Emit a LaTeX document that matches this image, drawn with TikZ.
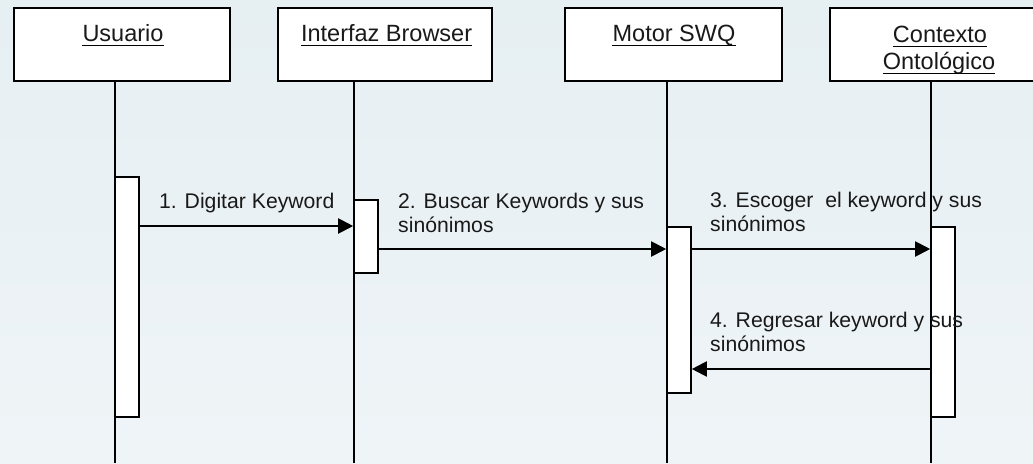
\documentclass[tikz,border=0pt]{standalone}
\usepackage{fontspec}
\setmainfont{Liberation Sans}
\usetikzlibrary{arrows.meta}
\definecolor{bgtop}{RGB}{230,239,242}
\definecolor{bgbot}{RGB}{239,244,247}
\begin{document}
\begin{tikzpicture}[x=1pt,y=-1pt,
  every node/.style={font=\fontsize{21.2}{23.5}\selectfont, text=black!90},
  head/.style={draw=black, line width=1.7pt, fill=white, minimum height=73pt, inner sep=0pt},
  htext/.style={inner sep=0pt, anchor=base, font=\fontsize{23.5}{28}\selectfont},
  uline/.style={line width=1.3pt},
  act/.style={draw=black, line width=1.6pt, fill=white, minimum width=24pt, inner sep=0pt},
  life/.style={line width=1.1pt},
  msg/.style={line width=2pt, -{Triangle[length=15pt,width=15pt]}},
  lbl/.style={inner sep=0pt, anchor=base west, align=left}
]
\useasboundingbox (0,0) rectangle (1033,463);
\shade[top color=bgtop, middle color=white, bottom color=bgbot] (0,0) rectangle (1033,463);
\begin{scope}
\clip (0,0) rectangle (1033,463);
% header boxes
\node[head, minimum width=216pt] (h1) at (122,44.5) {};
\node[head, minimum width=214pt] (h2) at (385,44.5) {};
\node[head, minimum width=217pt] (h3) at (673.5,44.5) {};
\node[head, minimum width=212pt] (h4) at (936,44.5) {};
% header texts
\node[htext] (t1) at (123,41.7) {Usuario};
\node[htext] (t2) at (386.6,41.7) {Interfaz Browser};
\node[htext] (t3) at (674,41.7) {Motor SWQ};
\node[htext] (t4a) at (940,42.5) {Contexto};
\node[htext] (t4b) at (939,69.5) {Ontológico};
\foreach \t in {t1,t2,t3,t4a,t4b}
  \draw[uline] ([yshift=-4pt]\t.base west) -- ([yshift=-4pt]\t.base east);
% lifeline ends
\coordinate (e1) at (115,463);
\coordinate (e2) at (354,463);
\coordinate (e3) at (667,463);
\coordinate (e4) at (931,463);
\draw[life] (h1.south -| e1) -- (e1);
\draw[life] (h2.south -| e2) -- (e2);
\draw[life] (h3.south -| e3) -- (e3);
\draw[life] (h4.south -| e4) -- (e4);
% activation boxes
\node[act, minimum height=240pt] (a1) at (127,297) {};
\node[act, minimum height=73pt] (a2) at (366,236.5) {};
\node[act, minimum height=166pt] (a3) at (679,310) {};
\node[act, minimum height=190pt] (a4) at (943,322) {};
% messages
\draw[msg] (a1.east |- 0,226) -- (a2.west |- 0,226);
\draw[msg] (a2.east |- 0,249) -- (a3.west |- 0,249);
\draw[msg] (a3.east |- 0,249) -- (a4.west |- 0,249);
\draw[msg] (a4.west |- 0,369) -- (a3.east |- 0,369);
% labels (base anchor = last line)
\node[lbl] (l1) at (159,208) {1. Digitar Keyword};
\node[lbl] (l2) at (398,232) {2. Buscar Keywords y sus\\sinónimos};
\node[lbl] (l3) at (710,231) {3. Escoger~~el keyword y sus\\sinónimos};
\node[lbl] (l4) at (710,351) {4. Regresar keyword y sus\\sinónimos};
\end{scope}
\end{tikzpicture}
\end{document}
